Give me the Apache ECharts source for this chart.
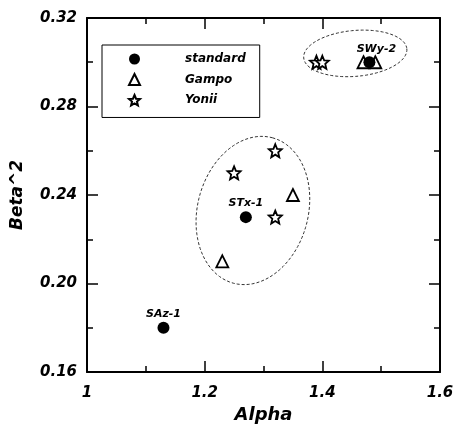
<!DOCTYPE html>
<html>
<head>
<meta charset="utf-8">
<script src="https://cdn.jsdelivr.net/npm/echarts@6/dist/echarts.min.js"></script>
<style>
  html, body { margin: 0; padding: 0; background: #fff; }
  #chart { width: 456px; height: 426px; }
</style>
</head>
<body>
<div id="chart"></div>
<script>
// values
const standardPts = [[1.13, 0.18], [1.27, 0.23], [1.48, 0.30]];
const standardNames = ['SAz-1', 'STx-1', 'SWy-2'];
const gampoPts = [[1.23, 0.21], [1.35, 0.24], [1.47, 0.30], [1.49, 0.30]];
const yoniiPts = [[1.25, 0.25], [1.32, 0.26], [1.32, 0.23], [1.39, 0.30], [1.40, 0.30]];
// dashed groupings: centre x, centre y, semi-major, semi-minor (alpha units), tilt in degrees
const ellipses = [[1.282, 0.233, 0.128, 0.094, 75], [1.456, 0.304, 0.088, 0.039, 5]];
const xTicks = [1, 1.6, 0.2];
const yTicks = [0.16, 0.32, 0.04];

const font = 'DejaVu Sans';
const starPath = 'path://M10,0L12.65,6.36L19.51,6.91L14.28,11.39L15.88,18.09L10,14.5L4.12,18.09L5.72,11.39L0.49,6.91L7.35,6.36Z';

function axisCommon(show) {
  return {
    axisLine: { show: true, onZero: false, lineStyle: { color: '#000', width: 2 } },
    axisTick: { show: true, inside: true, length: 11, lineStyle: { color: '#000', width: 1.5 } },
    minorTick: { show: true, splitNumber: 2, length: 6, lineStyle: { color: '#000', width: 1.5 } },
    splitLine: { show: false },
    axisLabel: { show }
  };
}

const boldItalic = { fontFamily: font, fontWeight: 'bold', fontStyle: 'italic', color: '#000' };

const chart = echarts.init(document.getElementById('chart'));

chart.setOption({
  animation: false,
  backgroundColor: '#fff',
  textStyle: { fontFamily: font },
  grid: { left: 87, right: 16, top: 18, bottom: 54, outerBoundsMode: 'none' },
  legend: {
    orient: 'vertical',
    left: 102,
    top: 45,
    borderColor: '#000',
    borderWidth: 1,
    padding: [8, 14, 11, 26],
    itemGap: 8,
    itemWidth: 11,
    itemHeight: 11,
    data: ['standard', 'Gampo', 'Yonii'],
    textStyle: Object.assign({ fontSize: 12, padding: [0, 0, 0, 40] }, boldItalic)
  },
  xAxis: [
    Object.assign(axisCommon(true), {
      type: 'value', min: xTicks[0], max: xTicks[1], interval: xTicks[2],
      name: 'Alpha', nameLocation: 'middle', nameGap: 34,
      nameTextStyle: Object.assign({ fontSize: 18 }, boldItalic),
      axisLabel: Object.assign({ show: true, margin: 14, fontSize: 15 }, boldItalic)
    }),
    Object.assign(axisCommon(false), {
      type: 'value', position: 'top', min: xTicks[0], max: xTicks[1], interval: xTicks[2]
    })
  ],
  yAxis: [
    Object.assign(axisCommon(true), {
      type: 'value', min: yTicks[0], max: yTicks[1], interval: yTicks[2],
      name: 'Beta^2', nameLocation: 'middle', nameGap: 61,
      nameTextStyle: Object.assign({ fontSize: 17 }, boldItalic),
      axisLabel: Object.assign({
        show: true, margin: 10, fontSize: 15,
        formatter: (v) => v.toFixed(2)
      }, boldItalic)
    }),
    Object.assign(axisCommon(false), {
      type: 'value', position: 'right', min: yTicks[0], max: yTicks[1], interval: yTicks[2]
    })
  ],
  series: [
    {
      type: 'custom',
      silent: true,
      z: 1,
      data: ellipses,
      renderItem(params, api) {
        const c = api.coord([api.value(0), api.value(1)]);
        const a = api.size([api.value(2), 0])[0];
        const b = api.size([api.value(3), 0])[0];
        const th = api.value(4) * Math.PI / 180;
        const u = [Math.cos(th), -Math.sin(th)];
        const v = [Math.sin(th), Math.cos(th)];
        const pts = [];
        for (let i = 0; i < 90; i++) {
          const t = (i / 90) * Math.PI * 2;
          pts.push([
            c[0] + a * Math.cos(t) * u[0] + b * Math.sin(t) * v[0],
            c[1] + a * Math.cos(t) * u[1] + b * Math.sin(t) * v[1]
          ]);
        }
        return {
          type: 'polygon',
          shape: { points: pts },
          style: { fill: 'none', stroke: '#333', lineWidth: 1, lineDash: [3, 2] }
        };
      }
    },
    {
      name: 'Gampo',
      type: 'scatter',
      z: 3,
      symbol: 'triangle',
      symbolSize: 12,
      itemStyle: { color: '#fff', borderColor: '#000', borderWidth: 1.8, opacity: 1 },
      data: gampoPts
    },
    {
      name: 'Yonii',
      type: 'scatter',
      z: 3,
      symbol: starPath,
      symbolSize: 13,
      itemStyle: { color: '#fff', borderColor: '#000', borderWidth: 1.8, opacity: 1 },
      data: yoniiPts
    },
    {
      name: 'standard',
      type: 'scatter',
      z: 4,
      symbol: 'circle',
      symbolSize: 12,
      itemStyle: { color: '#000', opacity: 1 },
      label: Object.assign({
        show: true, position: 'top', distance: 2, formatter: '{b}', fontSize: 11
      }, boldItalic),
      data: standardPts.map((p, i) => ({
        name: standardNames[i],
        value: p,
        label: i === 2 ? { offset: [7, 0] } : {}
      }))
    }
  ]
});
</script>
</body>
</html>
